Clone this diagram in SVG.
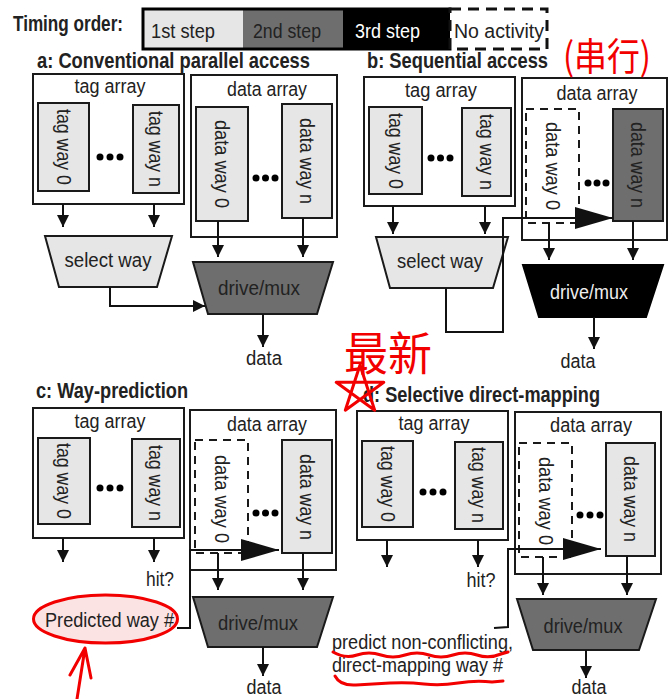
<svg xmlns="http://www.w3.org/2000/svg" width="672" height="699" viewBox="0 0 672 699">
<style>
.t{font-family:"Liberation Sans",Arial,sans-serif;font-size:20px;fill:#222}
.tb{font-family:"Liberation Sans",Arial,sans-serif;font-size:22px;font-weight:bold;fill:#222}
.box{fill:#fff;stroke:#1a1a1a;stroke-width:2}
.l1{fill:#e6e6e6;stroke:#1a1a1a;stroke-width:2}
.l2{fill:#6e6e6e;stroke:#1a1a1a;stroke-width:2}
.l3{fill:#000;stroke:#000;stroke-width:2}
.na{fill:#fff;stroke:#1a1a1a;stroke-width:2;stroke-dasharray:8 6}
.w{fill:none;stroke:#111;stroke-width:2}
.red{fill:none;stroke:#f20000;stroke-width:3;stroke-linecap:round;stroke-linejoin:round}
.cjk{font-family:"Noto Sans CJK SC","Noto Sans CJK JP",sans-serif;fill:#f20000}
</style>
<defs>
<marker id="ah" markerUnits="userSpaceOnUse" markerWidth="12" markerHeight="12" refX="12" refY="6" orient="auto"><path d="M0,0 L12,6 L0,12 z" fill="#111"/></marker>
<marker id="big" markerUnits="userSpaceOnUse" markerWidth="38" markerHeight="22" refX="38" refY="11" orient="auto"><path d="M0,0 L38,11 L0,22 z" fill="#111"/></marker>
</defs>
<rect width="672" height="699" fill="#fff"/>

<g id="legend">
<text class="tb" x="13" y="31" textLength="110" lengthAdjust="spacingAndGlyphs">Timing order:</text>
<rect x="143" y="9" width="100" height="40" fill="#e6e6e6"/>
<rect x="243" y="9" width="100" height="40" fill="#6e6e6e"/>
<rect x="343" y="9" width="107" height="40" fill="#000"/>
<rect x="143" y="9" width="307" height="40" fill="none" stroke="#000" stroke-width="3"/>
<rect x="450" y="9" width="97" height="40" fill="#fff" stroke="#111" stroke-width="3" stroke-dasharray="11 7"/>
<text class="t" x="151" y="38" font-size="21" textLength="64" lengthAdjust="spacingAndGlyphs">1st step</text>
<text class="t" x="253" y="38" font-size="21" textLength="68" lengthAdjust="spacingAndGlyphs">2nd step</text>
<text class="t" x="355" y="38" font-size="21" textLength="65" lengthAdjust="spacingAndGlyphs" style="fill:#fff">3rd step</text>
<text class="t" x="454" y="38" font-size="21" textLength="90" lengthAdjust="spacingAndGlyphs">No activity</text>
</g>

<g id="titles">
<text class="tb" x="37" y="68" textLength="273" lengthAdjust="spacingAndGlyphs">a: Conventional parallel access</text>
<text class="tb" x="367" y="68" textLength="181" lengthAdjust="spacingAndGlyphs">b: Sequential access</text>
<text class="tb" x="36" y="398" textLength="152" lengthAdjust="spacingAndGlyphs">c: Way-prediction</text>
<text class="tb" x="363" y="402" textLength="237" lengthAdjust="spacingAndGlyphs">d: Selective direct-mapping</text>
</g>

<!-- Panel a -->
<g id="a-tag-array">
<rect class="box" x="33" y="74" width="151" height="130"/>
<text class="t" x="110" y="93" text-anchor="middle" textLength="71" lengthAdjust="spacingAndGlyphs">tag array</text>
<rect class="l1" x="38" y="103" width="51" height="88"/>
<text class="t" transform="translate(63.5,147) rotate(90)" text-anchor="middle" dominant-baseline="central" textLength="76" lengthAdjust="spacingAndGlyphs">tag way 0</text>
<rect class="l1" x="133" y="105" width="46" height="88"/>
<text class="t" transform="translate(156,149) rotate(90)" text-anchor="middle" dominant-baseline="central" textLength="76" lengthAdjust="spacingAndGlyphs">tag way n</text>
<circle cx="100" cy="157" r="3.5"/><circle cx="110" cy="157" r="3.5"/><circle cx="120" cy="157" r="3.5"/>
</g>
<g id="a-data-array">
<rect class="box" x="191" y="75" width="146" height="162"/>
<text class="t" x="267" y="96" text-anchor="middle" textLength="80" lengthAdjust="spacingAndGlyphs">data array</text>
<rect class="l1" x="196" y="107" width="52" height="114"/>
<text class="t" transform="translate(222,164) rotate(90)" text-anchor="middle" dominant-baseline="central" textLength="88" lengthAdjust="spacingAndGlyphs">data way 0</text>
<rect class="l1" x="282" y="104" width="50" height="114"/>
<text class="t" transform="translate(307,161) rotate(90)" text-anchor="middle" dominant-baseline="central" textLength="86" lengthAdjust="spacingAndGlyphs">data way n</text>
<circle cx="256" cy="178" r="3.5"/><circle cx="265.5" cy="178" r="3.5"/><circle cx="275" cy="178" r="3.5"/>
</g>
<g id="a-select-way">
<polygon class="l1" points="45,236 172,236 157,287 59,287"/>
<text class="t" x="108" y="267" text-anchor="middle" textLength="87" lengthAdjust="spacingAndGlyphs">select way</text>
</g>
<g id="a-drive-mux">
<polygon class="l2" points="193,262 333,262 317,314 208,314"/>
<text class="t" x="259" y="295" text-anchor="middle" textLength="82" lengthAdjust="spacingAndGlyphs">drive/mux</text>
</g>
<g id="a-data"><text class="t" x="264" y="365" text-anchor="middle" textLength="36" lengthAdjust="spacingAndGlyphs">data</text></g>

<!-- Panel b -->
<g id="b-tag-array">
<rect class="box" x="364" y="77" width="151" height="129"/>
<text class="t" x="441" y="97" text-anchor="middle" textLength="72" lengthAdjust="spacingAndGlyphs">tag array</text>
<rect class="l1" x="369" y="107" width="53" height="87"/>
<text class="t" transform="translate(395.5,151) rotate(90)" text-anchor="middle" dominant-baseline="central" textLength="76" lengthAdjust="spacingAndGlyphs">tag way 0</text>
<rect class="l1" x="462" y="108" width="49" height="88"/>
<text class="t" transform="translate(486.5,152) rotate(90)" text-anchor="middle" dominant-baseline="central" textLength="76" lengthAdjust="spacingAndGlyphs">tag way n</text>
<circle cx="431" cy="158" r="3.5"/><circle cx="440.5" cy="158" r="3.5"/><circle cx="450" cy="158" r="3.5"/>
</g>
<g id="b-data-array">
<rect class="box" x="522" y="78" width="145" height="162"/>
<text class="t" x="597" y="100" text-anchor="middle" textLength="81" lengthAdjust="spacingAndGlyphs">data array</text>
<rect class="na" x="526" y="109" width="53" height="114"/>
<text class="t" transform="translate(552.5,166) rotate(90)" text-anchor="middle" dominant-baseline="central" textLength="88" lengthAdjust="spacingAndGlyphs">data way 0</text>
<rect class="l2" x="613" y="109" width="50" height="112"/>
<text class="t" transform="translate(638,165) rotate(90)" text-anchor="middle" dominant-baseline="central" textLength="86" lengthAdjust="spacingAndGlyphs">data way n</text>
<circle cx="588" cy="183" r="3.5"/><circle cx="597" cy="183" r="3.5"/><circle cx="606" cy="183" r="3.5"/>
</g>
<g id="b-select-way">
<polygon class="l1" points="376,237 508,237 493,288 390,288"/>
<text class="t" x="440" y="268" text-anchor="middle" textLength="86" lengthAdjust="spacingAndGlyphs">select way</text>
</g>
<g id="b-drive-mux">
<polygon class="l3" points="523,265 663,265 646,317 539,317"/>
<text class="t" x="589" y="299" text-anchor="middle" textLength="78" lengthAdjust="spacingAndGlyphs" style="fill:#eee">drive/mux</text>
</g>
<g id="b-data"><text class="t" x="578" y="368" text-anchor="middle" textLength="35" lengthAdjust="spacingAndGlyphs">data</text></g>

<!-- Panel c -->
<g id="c-tag-array">
<rect class="box" x="33" y="408" width="151" height="130"/>
<text class="t" x="110" y="428" text-anchor="middle" textLength="71" lengthAdjust="spacingAndGlyphs">tag array</text>
<rect class="l1" x="38" y="438" width="52" height="86"/>
<text class="t" transform="translate(64,481) rotate(90)" text-anchor="middle" dominant-baseline="central" textLength="76" lengthAdjust="spacingAndGlyphs">tag way 0</text>
<rect class="l1" x="132" y="439" width="48" height="88"/>
<text class="t" transform="translate(156,483) rotate(90)" text-anchor="middle" dominant-baseline="central" textLength="76" lengthAdjust="spacingAndGlyphs">tag way n</text>
<circle cx="100" cy="488" r="3.5"/><circle cx="110" cy="488" r="3.5"/><circle cx="120" cy="488" r="3.5"/>
</g>
<g id="c-data-array">
<rect class="box" x="190" y="410" width="146" height="160"/>
<text class="t" x="267" y="431" text-anchor="middle" textLength="80" lengthAdjust="spacingAndGlyphs">data array</text>
<rect class="na" x="195" y="440" width="53" height="113"/>
<text class="t" transform="translate(221.5,499) rotate(90)" text-anchor="middle" dominant-baseline="central" textLength="88" lengthAdjust="spacingAndGlyphs">data way 0</text>
<rect class="l1" x="282" y="440" width="50" height="113"/>
<text class="t" transform="translate(307,497) rotate(90)" text-anchor="middle" dominant-baseline="central" textLength="86" lengthAdjust="spacingAndGlyphs">data way n</text>
<circle cx="256" cy="513" r="3.5"/><circle cx="265.5" cy="513" r="3.5"/><circle cx="275" cy="513" r="3.5"/>
</g>
<g id="c-hit"><text class="t" x="160" y="586" text-anchor="middle" textLength="28" lengthAdjust="spacingAndGlyphs">hit?</text></g>
<g id="c-predicted">
<ellipse cx="105.5" cy="619" rx="72" ry="24" fill="#fbe3e3" stroke="#f20000" stroke-width="3"/>
<text class="t" x="45" y="627" textLength="129" lengthAdjust="spacingAndGlyphs">Predicted way #</text>
</g>
<g id="c-drive-mux">
<polygon class="l2" points="193,597 333,597 317,647 208,647"/>
<text class="t" x="258" y="630" text-anchor="middle" textLength="80" lengthAdjust="spacingAndGlyphs">drive/mux</text>
</g>
<g id="c-data"><text class="t" x="264" y="694" text-anchor="middle" textLength="35" lengthAdjust="spacingAndGlyphs">data</text></g>

<!-- Panel d -->
<g id="d-tag-array">
<rect class="box" x="357" y="411" width="151" height="129"/>
<text class="t" x="434" y="430" text-anchor="middle" textLength="71" lengthAdjust="spacingAndGlyphs">tag array</text>
<rect class="l1" x="362" y="441" width="51" height="86"/>
<text class="t" transform="translate(387.5,484) rotate(90)" text-anchor="middle" dominant-baseline="central" textLength="76" lengthAdjust="spacingAndGlyphs">tag way 0</text>
<rect class="l1" x="455" y="442" width="48" height="87"/>
<text class="t" transform="translate(479,485) rotate(90)" text-anchor="middle" dominant-baseline="central" textLength="76" lengthAdjust="spacingAndGlyphs">tag way n</text>
<circle cx="423" cy="492" r="3.5"/><circle cx="433" cy="492" r="3.5"/><circle cx="443" cy="492" r="3.5"/>
</g>
<g id="d-data-array">
<rect class="box" x="515" y="412" width="146" height="162"/>
<text class="t" x="591" y="432" text-anchor="middle" textLength="82" lengthAdjust="spacingAndGlyphs">data array</text>
<rect class="na" x="519" y="443" width="53" height="114"/>
<text class="t" transform="translate(545.5,501) rotate(90)" text-anchor="middle" dominant-baseline="central" textLength="88" lengthAdjust="spacingAndGlyphs">data way 0</text>
<rect class="l1" x="606" y="443" width="49" height="113"/>
<text class="t" transform="translate(630.5,499) rotate(90)" text-anchor="middle" dominant-baseline="central" textLength="86" lengthAdjust="spacingAndGlyphs">data way n</text>
<circle cx="580" cy="515" r="3.5"/><circle cx="590" cy="515" r="3.5"/><circle cx="600" cy="515" r="3.5"/>
</g>
<g id="d-hit"><text class="t" x="481" y="587" text-anchor="middle" textLength="29" lengthAdjust="spacingAndGlyphs">hit?</text></g>
<g id="d-predict">
<text class="t" x="332" y="649" textLength="181" lengthAdjust="spacingAndGlyphs">predict non-conflicting,</text>
<text class="t" x="332" y="672" textLength="171" lengthAdjust="spacingAndGlyphs">direct-mapping way #</text>
</g>
<g id="d-drive-mux">
<polygon class="l2" points="517,599 656,599 639,650 533,650"/>
<text class="t" x="583" y="633" text-anchor="middle" textLength="79" lengthAdjust="spacingAndGlyphs">drive/mux</text>
</g>
<g id="d-data"><text class="t" x="589" y="694" text-anchor="middle" textLength="35" lengthAdjust="spacingAndGlyphs">data</text></g>

<g id="connectors">
<line class="w" x1="63" y1="204" x2="63" y2="227" marker-end="url(#ah)"/>
<line class="w" x1="154" y1="204" x2="154" y2="227" marker-end="url(#ah)"/>
<line class="w" x1="218" y1="221" x2="218" y2="257" marker-end="url(#ah)"/>
<line class="w" x1="303" y1="218" x2="303" y2="257" marker-end="url(#ah)"/>
<polyline class="w" points="110,287 110,306 205,306" marker-end="url(#ah)"/>
<line class="w" x1="263" y1="314" x2="263" y2="347" marker-end="url(#ah)"/>

<line class="w" x1="393" y1="206" x2="393" y2="234" marker-end="url(#ah)"/>
<line class="w" x1="485" y1="206" x2="485" y2="234" marker-end="url(#ah)"/>
<polyline class="w" points="446,288 446,332 503,332 503,218 613,218" marker-end="url(#big)"/>
<line class="w" x1="549" y1="223" x2="549" y2="260" marker-end="url(#ah)"/>
<line class="w" x1="633" y1="221" x2="633" y2="260" marker-end="url(#ah)"/>
<line class="w" x1="594" y1="317" x2="594" y2="349" marker-end="url(#ah)"/>

<line class="w" x1="63" y1="538" x2="63" y2="562" marker-end="url(#ah)"/>
<line class="w" x1="154" y1="538" x2="154" y2="562" marker-end="url(#ah)"/>
<polyline class="w" points="177,628 190,628 190,550 279,550" marker-end="url(#big)"/>
<line class="w" x1="218" y1="553" x2="218" y2="590" marker-end="url(#ah)"/>
<line class="w" x1="303" y1="553" x2="303" y2="590" marker-end="url(#ah)"/>
<line class="w" x1="263" y1="647" x2="263" y2="676" marker-end="url(#ah)"/>

<line class="w" x1="387" y1="540" x2="387" y2="567" marker-end="url(#ah)"/>
<line class="w" x1="478" y1="540" x2="478" y2="567" marker-end="url(#ah)"/>
<polyline class="w" points="494,628 508,627 508,549 601,549" marker-end="url(#big)"/>
<line class="w" x1="543" y1="557" x2="543" y2="595" marker-end="url(#ah)"/>
<line class="w" x1="627" y1="556" x2="627" y2="595" marker-end="url(#ah)"/>
<line class="w" x1="586" y1="650" x2="586" y2="678" marker-end="url(#ah)"/>
</g>

<g id="annotations">
<text class="cjk" x="563" y="70" font-size="38" textLength="88" lengthAdjust="spacingAndGlyphs">(串行)</text>
<text class="cjk" x="344" y="370" font-size="46" textLength="88" lengthAdjust="spacingAndGlyphs">最新</text>
<path class="red" d="M360,365 L374.7,410.2 L336.2,382.3 L383.8,382.3 L345.3,410.2 Z"/>
<path class="red" d="M77,699 L85,648 M70,675 L85,648 L91,678"/>
<path class="red" d="M333,652 Q345,659 357,655 T381,655 T405,655 T429,655 T453,655 T477,655 T501,654 L508,652"/>
<path class="red" d="M335,676 Q340,686 356,685 T390,683 T424,684 T458,683 T492,682 L503,681"/>
</g>
</svg>
